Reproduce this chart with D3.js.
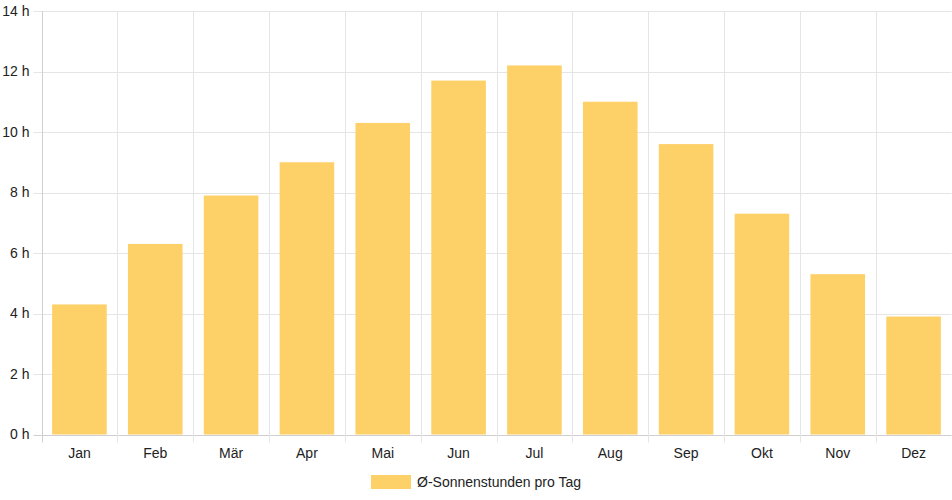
<!DOCTYPE html>
<html><head><meta charset="utf-8">
<script src="https://cdn.jsdelivr.net/npm/d3@7"></script>
<style>body{margin:0;background:#fff;}svg{display:block;font-family:"Liberation Sans",Arial,sans-serif;}</style>
</head><body><svg id="c" width="952" height="500"></svg>
<script>
const months = ["Jan","Feb","Mär","Apr","Mai","Jun","Jul","Aug","Sep","Okt","Nov","Dez"];
const sunHours = [4.3,6.3,7.9,9.0,10.3,11.7,12.2,11.0,9.6,7.3,5.3,3.9];
const yTicks = [0,2,4,6,8,10,12,14];
const seriesLabel = "Ø-Sonnenstunden pro Tag";

const svg = d3.select("#c");
const L=41.5, R=951.5, T=11, B=434.5;
const x = d3.scaleBand().domain(months).range([L,R]).paddingInner(0).paddingOuter(0);
const y = d3.scaleLinear().domain([0,14]).range([B,T]);
const grid="#e5e5e5", barCol="rgb(254,208,104)";

// horizontal grid
const gy = svg.append("g");
yTicks.forEach(t=>{
  gy.append("line").attr("x1",L-8).attr("x2",R).attr("y1",Math.round(y(t))+0.5).attr("y2",Math.round(y(t))+0.5)
    .attr("stroke", t===0 ? "#cfcfcf" : grid);
  gy.append("text").attr("x",L-12).attr("y",y(t)).attr("dy","0.35em").attr("text-anchor","end")
    .attr("font-size",14).attr("fill","#222").text(t+" h");
});
// vertical grid
const vx = months.map(m=>x(m)).concat([R]);
vx.forEach((v,i)=>{
  svg.append("line").attr("x1",Math.round(v)+0.5).attr("x2",Math.round(v)+0.5).attr("y1",T).attr("y2",B+8)
    .attr("stroke", i===0 ? "#cfcfcf" : grid);
});
// bars
const bw = x.bandwidth()*0.72;
svg.append("g").selectAll("rect").data(sunHours).join("rect")
  .attr("x",(d,i)=>x(months[i])+(x.bandwidth()-bw)/2)
  .attr("y",d=>y(d)).attr("width",bw).attr("height",d=>B-y(d)).attr("fill",barCol);
// x labels
months.forEach(m=>{
  svg.append("text").attr("x",x(m)+x.bandwidth()/2).attr("y",453).attr("dy","0.35em")
    .attr("text-anchor","middle").attr("font-size",14).attr("fill","#222").text(m);
});
// legend
svg.append("rect").attr("x",371).attr("y",475).attr("width",40).attr("height",14).attr("fill",barCol);
svg.append("text").attr("x",417).attr("y",482).attr("dy","0.35em").attr("font-size",14).attr("fill","#222").text(seriesLabel);
</script></body></html>
